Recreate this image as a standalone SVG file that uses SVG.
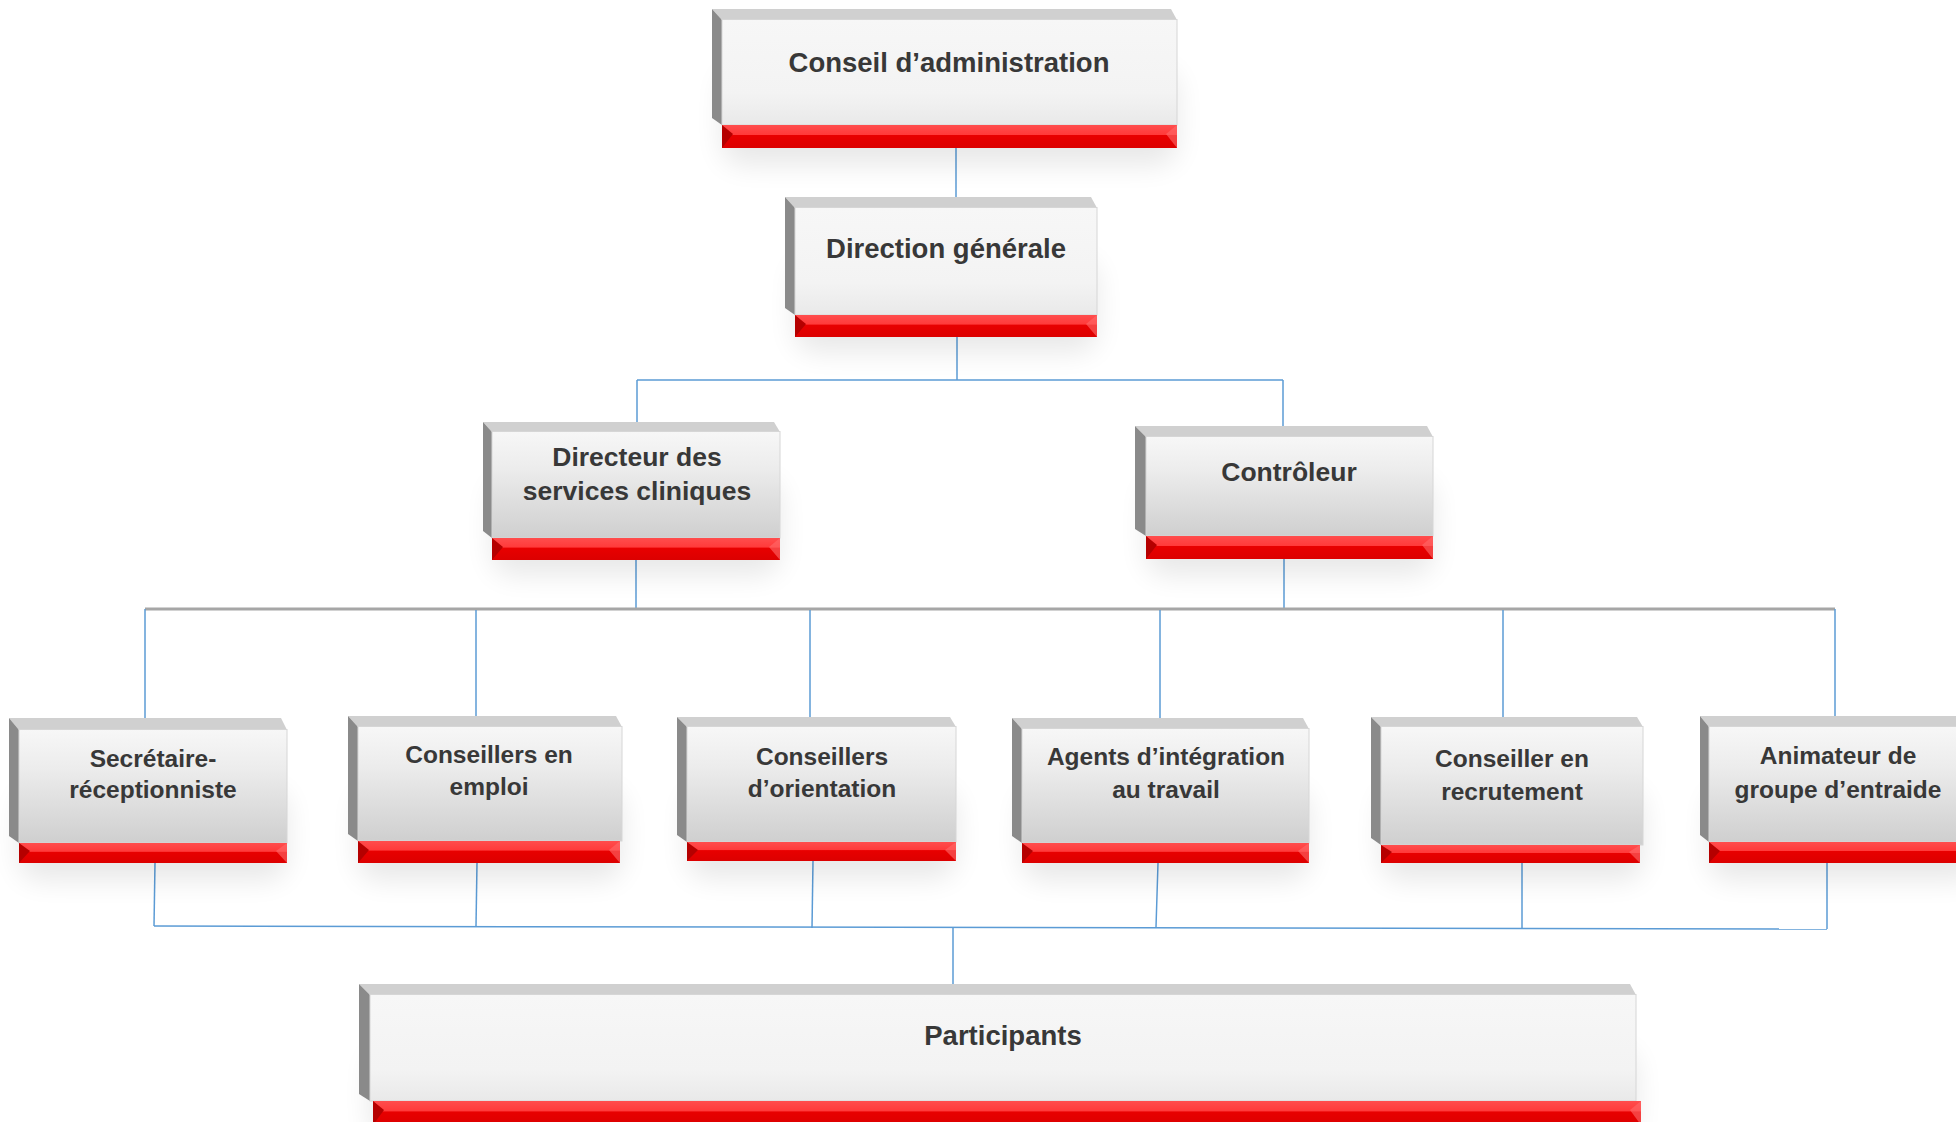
<svg xmlns="http://www.w3.org/2000/svg" width="1956" height="1122" viewBox="0 0 1956 1122">
<defs>
  <linearGradient id="faceA" x1="0" y1="0" x2="0" y2="1">
    <stop offset="0" stop-color="#f7f7f7"/>
    <stop offset="0.7" stop-color="#f3f3f3"/>
    <stop offset="1" stop-color="#e9e9e9"/>
  </linearGradient>
  <linearGradient id="faceB" x1="0" y1="0" x2="0" y2="1">
    <stop offset="0" stop-color="#f7f7f7"/>
    <stop offset="0.35" stop-color="#ececec"/>
    <stop offset="1" stop-color="#cfcfcf"/>
  </linearGradient>
  <linearGradient id="red" x1="0" y1="0" x2="0" y2="1">
    <stop offset="0" stop-color="#ff4d4d"/>
    <stop offset="0.42" stop-color="#ff3a3a"/>
    <stop offset="0.45" stop-color="#e80000"/>
    <stop offset="1" stop-color="#dc0000"/>
  </linearGradient>
  <filter id="sh" x="-20%" y="-40%" width="140%" height="180%">
    <feGaussianBlur stdDeviation="14"/>
  </filter>
</defs>
<style>
  .tb{fill:#d0d0d0}
  .lb{fill:#8a8a8a}
  .fa{fill:url(#faceA);stroke:#d6d6d6;stroke-width:1}
  .fb{fill:url(#faceB);stroke:#d6d6d6;stroke-width:1}
  .rd{fill:url(#red)}
  .rl{fill:#b50000}
  .rr{fill:#ff6a6a;opacity:0.6}
  .sh{fill:#000;opacity:0.09;filter:url(#sh)}
  .t1{font-family:"Liberation Sans",Arial,sans-serif;font-weight:bold;font-size:27.5px;fill:#383838;text-anchor:middle}
  .t2{font-family:"Liberation Sans",Arial,sans-serif;font-weight:bold;font-size:26.5px;fill:#383838;text-anchor:middle}
  .t3{font-family:"Liberation Sans",Arial,sans-serif;font-weight:bold;font-size:24.5px;fill:#383838;text-anchor:middle}
  .c{stroke:#5b9bd5;stroke-width:1.5;fill:none}
  .g{stroke:#a6a6a6;stroke-width:3;fill:none}
</style>
<rect width="1956" height="1122" fill="#ffffff"/>

<g id="connectors">
  <line class="c" x1="956" y1="148" x2="956" y2="197"/>
  <line class="c" x1="957" y1="337" x2="957" y2="380"/>
  <line class="c" x1="637" y1="380" x2="1283" y2="380"/>
  <line class="c" x1="637" y1="380" x2="637" y2="422"/>
  <line class="c" x1="1283" y1="380" x2="1283" y2="426"/>
  <line class="c" x1="636" y1="560" x2="636" y2="609"/>
  <line class="c" x1="1284" y1="559" x2="1284" y2="609"/>
  <line class="g" x1="145" y1="609" x2="1835" y2="609"/>
  <line class="c" x1="145" y1="609" x2="145" y2="718"/>
  <line class="c" x1="476" y1="610" x2="476" y2="716"/>
  <line class="c" x1="810" y1="610" x2="810" y2="717"/>
  <line class="c" x1="1160" y1="610" x2="1160" y2="718"/>
  <line class="c" x1="1503" y1="610" x2="1503" y2="717"/>
  <line class="c" x1="1835" y1="609" x2="1835" y2="716"/>
  <line class="c" x1="155" y1="863" x2="154" y2="926"/>
  <line class="c" x1="477" y1="863" x2="476" y2="926"/>
  <line class="c" x1="813" y1="861" x2="812" y2="928"/>
  <line class="c" x1="1158" y1="863" x2="1156" y2="927"/>
  <line class="c" x1="1522" y1="863" x2="1522" y2="928"/>
  <line class="c" x1="1827" y1="863" x2="1827" y2="929"/>
  <line class="c" x1="154" y1="926" x2="1827" y2="929"/>
  <line class="c" x1="953" y1="927" x2="953" y2="984"/>
</g>

<g id="n-conseil">
  <rect class="sh" x="722" y="70" width="455" height="95" rx="20"/>
  <polygon class="tb" points="712,9 1171,9 1177,20 722,20"/>
  <polygon class="lb" points="712,9 722,20 722,125 712,118"/>
  <rect class="fa" x="722" y="19.5" width="455" height="105.5"/>
  <rect class="rd" x="722" y="125" width="455" height="23"/>
  <polygon class="rl" points="722,125 733,134 722,148"/>
  <polygon class="rr" points="1177,125 1166,134 1177,148"/>
  <text class="t1" x="949" y="72">Conseil d’administration</text>
</g>

<g id="n-direction">
  <rect class="sh" x="795" y="260" width="302" height="92" rx="20"/>
  <polygon class="tb" points="785,197 1091,197 1097,208 795,208"/>
  <polygon class="lb" points="785,197 795,208 795,315 785,308"/>
  <rect class="fa" x="795" y="207.5" width="302" height="107.5"/>
  <rect class="rd" x="795" y="315" width="302" height="22"/>
  <polygon class="rl" points="795,315 806,324 795,337"/>
  <polygon class="rr" points="1097,315 1086,324 1097,337"/>
  <text class="t1" x="946" y="258">Direction générale</text>
</g>

<g id="n-directeur">
  <rect class="sh" x="492" y="480" width="288" height="95" rx="20"/>
  <polygon class="tb" points="483,422 774,422 780,432 492,432"/>
  <polygon class="lb" points="483,422 492,432 492,538 483,531"/>
  <rect class="fb" x="492" y="431.5" width="288" height="106.5"/>
  <rect class="rd" x="492" y="538" width="288" height="22"/>
  <polygon class="rl" points="492,538 503,547 492,560"/>
  <polygon class="rr" points="780,538 769,547 780,560"/>
  <text class="t2" x="637" y="466">Directeur des</text>
  <text class="t2" x="637" y="500">services cliniques</text>
</g>

<g id="n-controleur">
  <rect class="sh" x="1146" y="480" width="287" height="95" rx="20"/>
  <polygon class="tb" points="1135,426 1427,426 1433,437 1146,437"/>
  <polygon class="lb" points="1135,426 1146,437 1146,536 1135,529"/>
  <rect class="fb" x="1146" y="436.5" width="287" height="99.5"/>
  <rect class="rd" x="1146" y="536" width="287" height="23"/>
  <polygon class="rl" points="1146,536 1157,545 1146,559"/>
  <polygon class="rr" points="1433,536 1422,545 1433,559"/>
  <text class="t2" x="1289" y="481">Contrôleur</text>
</g>

<g id="n-secretaire">
  <rect class="sh" x="19" y="790" width="268" height="90" rx="20"/>
  <polygon class="tb" points="9,718 281,718 287,730 19,730"/>
  <polygon class="lb" points="9,718 19,730 19,843 9,836"/>
  <rect class="fb" x="19" y="729.5" width="268" height="113.5"/>
  <rect class="rd" x="19" y="843" width="268" height="20"/>
  <polygon class="rl" points="19,843 30,851 19,863"/>
  <polygon class="rr" points="287,843 276,851 287,863"/>
  <text class="t3" x="153" y="767">Secrétaire-</text>
  <text class="t3" x="153" y="798">réceptionniste</text>
</g>

<g id="n-emploi">
  <rect class="sh" x="358" y="790" width="264" height="90" rx="20"/>
  <polygon class="tb" points="348,716 616,716 622,727 358,727"/>
  <polygon class="lb" points="348,716 358,727 358,841 348,834"/>
  <rect class="fb" x="358" y="726.5" width="264" height="114.5"/>
  <rect class="rd" x="358" y="841" width="262" height="22"/>
  <polygon class="rl" points="358,841 369,850 358,863"/>
  <polygon class="rr" points="620,841 609,850 620,863"/>
  <text class="t3" x="489" y="763">Conseillers en</text>
  <text class="t3" x="489" y="795">emploi</text>
</g>

<g id="n-orientation">
  <rect class="sh" x="687" y="790" width="269" height="88" rx="20"/>
  <polygon class="tb" points="677,717 950,717 956,727 687,727"/>
  <polygon class="lb" points="677,717 687,727 687,842 677,835"/>
  <rect class="fb" x="687" y="726.5" width="269" height="115.5"/>
  <rect class="rd" x="687" y="842" width="269" height="19"/>
  <polygon class="rl" points="687,842 698,850 687,861"/>
  <polygon class="rr" points="956,842 945,850 956,861"/>
  <text class="t3" x="822" y="765">Conseillers</text>
  <text class="t3" x="822" y="797">d’orientation</text>
</g>

<g id="n-agents">
  <rect class="sh" x="1022" y="790" width="287" height="90" rx="20"/>
  <polygon class="tb" points="1012,718 1303,718 1309,729 1022,729"/>
  <polygon class="lb" points="1012,718 1022,729 1022,843 1012,836"/>
  <rect class="fb" x="1022" y="728.5" width="287" height="114.5"/>
  <rect class="rd" x="1022" y="843" width="287" height="20"/>
  <polygon class="rl" points="1022,843 1033,851 1022,863"/>
  <polygon class="rr" points="1309,843 1298,851 1309,863"/>
  <text class="t3" x="1166" y="765">Agents d’intégration</text>
  <text class="t3" x="1166" y="798">au travail</text>
</g>

<g id="n-recrutement">
  <rect class="sh" x="1381" y="790" width="262" height="90" rx="20"/>
  <polygon class="tb" points="1371,717 1637,717 1643,727 1381,727"/>
  <polygon class="lb" points="1371,717 1381,727 1381,845 1371,838"/>
  <rect class="fb" x="1381" y="726.5" width="262" height="118.5"/>
  <rect class="rd" x="1381" y="845" width="259" height="18"/>
  <polygon class="rl" points="1381,845 1392,852 1381,863"/>
  <polygon class="rr" points="1640,845 1629,852 1640,863"/>
  <text class="t3" x="1512" y="767">Conseiller en</text>
  <text class="t3" x="1512" y="800">recrutement</text>
</g>

<g id="n-animateur">
  <rect class="sh" x="1709" y="790" width="270" height="90" rx="20"/>
  <polygon class="tb" points="1700,716 1980,716 1986,727 1709,727"/>
  <polygon class="lb" points="1700,716 1709,727 1709,842 1700,835"/>
  <rect class="fb" x="1709" y="726.5" width="280" height="115.5"/>
  <rect class="rd" x="1709" y="842" width="280" height="21"/>
  <polygon class="rl" points="1709,842 1720,851 1709,863"/>
  <text class="t3" x="1838" y="764">Animateur de</text>
  <text class="t3" x="1838" y="798">groupe d’entraide</text>
</g>

<g id="n-participants">
  <rect class="sh" x="370" y="1050" width="1266" height="90" rx="20"/>
  <polygon class="tb" points="359,984 1630,984 1636,995 370,995"/>
  <polygon class="lb" points="359,984 370,995 370,1101 359,1094"/>
  <rect class="fa" x="370" y="994.5" width="1266" height="106.5"/>
  <rect class="rd" x="373" y="1101" width="1268" height="24"/>
  <polygon class="rl" points="373,1101 384,1110 373,1125"/>
  <polygon class="rr" points="1641,1101 1630,1110 1641,1125"/>
  <text class="t1" x="1003" y="1045">Participants</text>
</g>
</svg>
